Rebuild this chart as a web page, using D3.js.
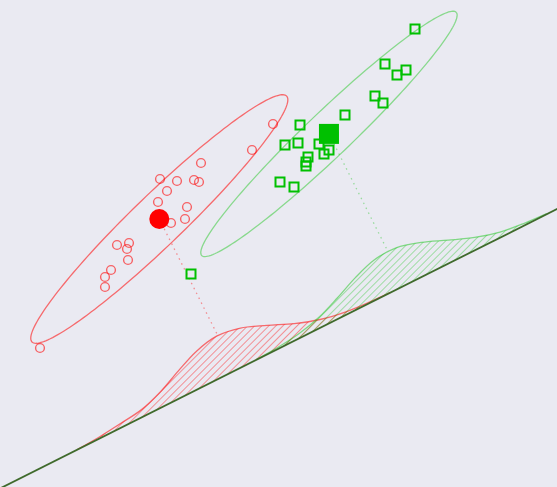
<!DOCTYPE html>
<html>
<head>
<meta charset="utf-8">
<script src="https://cdn.jsdelivr.net/npm/d3@7"></script>
<style>
  html, body { margin: 0; padding: 0; background: #eaeaf2; }
  svg { display: block; }
</style>
</head>
<body>
<svg id="chart" width="557" height="487"></svg>
<script>
// ---- data -------------------------------------------------------------
// class 0 samples
const class0X = [5.46, 5.04, 4.02, 3.20, 3.54, 3.88, 3.98, 3.34, 3.16, 3.74,
                 3.70, 3.42, 2.34, 2.58, 2.54, 2.56, 2.22, 2.10, 2.10, 0.80];
const class0Y = [7.26, 6.74, 6.48, 6.16, 6.12, 6.14, 6.10, 5.92, 5.70, 5.60,
                 5.36, 5.28, 4.84, 4.88, 4.76, 4.54, 4.34, 4.20, 4.00, 2.78];
// class 1 samples
const class1X = [8.30, 7.70, 7.94, 8.12, 7.50, 7.66, 6.90, 6.00, 5.96, 5.70,
                 6.38, 6.58, 6.48, 6.16, 6.12, 6.12, 5.60, 5.88, 3.82, 6.66];
const class1Y = [9.16, 8.46, 8.24, 8.34, 7.82, 7.68, 7.44, 7.24, 6.88, 6.84,
                 6.86, 6.74, 6.66, 6.60, 6.50, 6.42, 6.10, 6.00, 4.26, 7.00];

// covariance ellipses: [semi-major, semi-minor], orientation in degrees
const ellipse0 = [3.54, 0.51];
const ellipse0Angle = 44.0;
const ellipse1 = [3.52, 0.45];
const ellipse1Angle = 43.7;

// projection axis passes through this point, along the direction of the mean difference
const axisOrigin = [2.0, 0.974];
const axisExtent = [-3, 12];

// class densities along the projection axis (position t, height h)
const density0T = [-0.5, 0.0, 0.5, 1.0, 1.5, 2.0, 2.5, 3.0, 3.5, 4.0, 4.5, 5.0, 5.5, 6.0, 6.5];
const density0H = [0.004, 0.03, 0.08, 0.14, 0.29, 0.50, 0.69, 0.78, 0.71, 0.52, 0.31, 0.15, 0.06, 0.02, 0.004];
const density1T = [3.5, 4.0, 4.5, 5.0, 5.5, 6.0, 6.5, 7.0, 7.5, 8.0, 8.5, 9.0, 9.5, 10.0];
const density1H = [0.008, 0.03, 0.086, 0.20, 0.38, 0.58, 0.73, 0.75, 0.62, 0.42, 0.23, 0.10, 0.04, 0.01];

// ---- scales -----------------------------------------------------------
const W = 557, H = 487;
const x = d3.scaleLinear().domain([0, 11.14]).range([0, W]);
const y = d3.scaleLinear().domain([0, 9.74]).range([H, 0]);

const svg = d3.select("#chart");
svg.append("rect").attr("width", W).attr("height", H).attr("fill", "#eaeaf2");

const red = "#ff0000", green = "#00c000";

// ---- helpers ----------------------------------------------------------
const mean0 = [d3.mean(class0X), d3.mean(class0Y)];
const mean1 = [d3.mean(class1X), d3.mean(class1Y)];
const diff = [mean1[0] - mean0[0], mean1[1] - mean0[1]];
const len = Math.hypot(diff[0], diff[1]);
const u = [diff[0] / len, diff[1] / len];   // along the axis
const n = [-u[1], u[0]];                    // normal, towards the samples

const onAxis = (t, h) => [axisOrigin[0] + t * u[0] + h * n[0],
                          axisOrigin[1] + t * u[1] + h * n[1]];
const project = p => (p[0] - axisOrigin[0]) * u[0] + (p[1] - axisOrigin[1]) * u[1];

const line = d3.line().x(d => x(d[0])).y(d => y(d[1]));

function ellipsePoints(c, radii, angleDeg) {
  const a = angleDeg * Math.PI / 180;
  return d3.range(0, 361, 2).map(deg => {
    const th = deg * Math.PI / 180;
    const ex = radii[0] * Math.cos(th), ey = radii[1] * Math.sin(th);
    return [c[0] + ex * Math.cos(a) - ey * Math.sin(a),
            c[1] + ex * Math.sin(a) + ey * Math.cos(a)];
  });
}

// hatch patterns
const defs = svg.append("defs");
function hatch(id, color, opacity) {
  const p = defs.append("pattern").attr("id", id)
    .attr("patternUnits", "userSpaceOnUse")
    .attr("width", 5).attr("height", 5)
    .attr("patternTransform", "rotate(45)");
  p.append("line").attr("x1", 0).attr("y1", 0).attr("x2", 0).attr("y2", 5)
    .attr("stroke", color).attr("stroke-opacity", opacity).attr("stroke-width", 1.3);
}
hatch("hatch0", red, 0.6);
hatch("hatch1", green, 0.5);

// ---- density curves on the projection axis ----------------------------
const curveLine = d3.line().x(d => x(d[0])).y(d => y(d[1])).curve(d3.curveCatmullRom);

[[density0T, density0H, "hatch0", red, 0.55], [density1T, density1H, "hatch1", green, 0.45]]
  .forEach(([T, Hs, pid, col, op]) => {
    const top = T.map((t, i) => onAxis(t, Hs[i]));
    const area = curveLine(top) + "L" + [onAxis(T[T.length - 1], 0), onAxis(T[0], 0)]
      .map(p => x(p[0]) + "," + y(p[1])).join("L") + "Z";
    svg.append("path").attr("d", area).attr("fill", `url(#${pid})`).attr("stroke", "none");
    svg.append("path").attr("d", curveLine(top)).attr("fill", "none")
      .attr("stroke", col).attr("stroke-opacity", op).attr("stroke-width", 1.3);
  });

// projection axis
svg.append("path")
  .attr("d", line([onAxis(axisExtent[0], 0), onAxis(axisExtent[1], 0)]))
  .attr("stroke", "#3f6a2c").attr("stroke-width", 1.8).attr("fill", "none");

// ---- ellipses ---------------------------------------------------------
svg.append("path").attr("d", line(ellipsePoints(mean0, ellipse0, ellipse0Angle)))
  .attr("fill", "none").attr("stroke", red).attr("stroke-opacity", 0.55).attr("stroke-width", 1.3);
svg.append("path").attr("d", line(ellipsePoints(mean1, ellipse1, ellipse1Angle)))
  .attr("fill", "none").attr("stroke", green).attr("stroke-opacity", 0.42).attr("stroke-width", 1.3);

// ---- dotted projections of the means ------------------------------------
[[mean0, density0T, density0H, red, 0.4], [mean1, density1T, density1H, green, 0.35]]
  .forEach(([m, T, Hs, col, op]) => {
    const t = project(m);
    const h = d3.scaleLinear().domain(T).range(Hs)(t);
    svg.append("path").attr("d", line([m, onAxis(t, h)]))
      .attr("stroke", col).attr("stroke-opacity", op).attr("stroke-width", 1.3)
      .attr("stroke-dasharray", "1.5,4").attr("fill", "none");
  });

// ---- samples ----------------------------------------------------------
svg.append("g").selectAll("circle").data(d3.range(class0X.length)).join("circle")
  .attr("cx", i => x(class0X[i])).attr("cy", i => y(class0Y[i])).attr("r", 4.4)
  .attr("fill", "none").attr("stroke", red).attr("stroke-opacity", 0.58).attr("stroke-width", 1.4);

const sq = 9;
svg.append("g").selectAll("rect").data(d3.range(class1X.length)).join("rect")
  .attr("x", i => x(class1X[i]) - sq / 2).attr("y", i => y(class1Y[i]) - sq / 2)
  .attr("width", sq).attr("height", sq)
  .attr("fill", "none").attr("stroke", green).attr("stroke-width", 2);

// ---- class means ------------------------------------------------------
svg.append("circle").attr("cx", x(mean0[0])).attr("cy", y(mean0[1])).attr("r", 10)
  .attr("fill", red);
const ms = 20;
svg.append("rect").attr("x", x(mean1[0]) - ms / 2).attr("y", y(mean1[1]) - ms / 2)
  .attr("width", ms).attr("height", ms).attr("fill", green);
</script>
</body>
</html>
